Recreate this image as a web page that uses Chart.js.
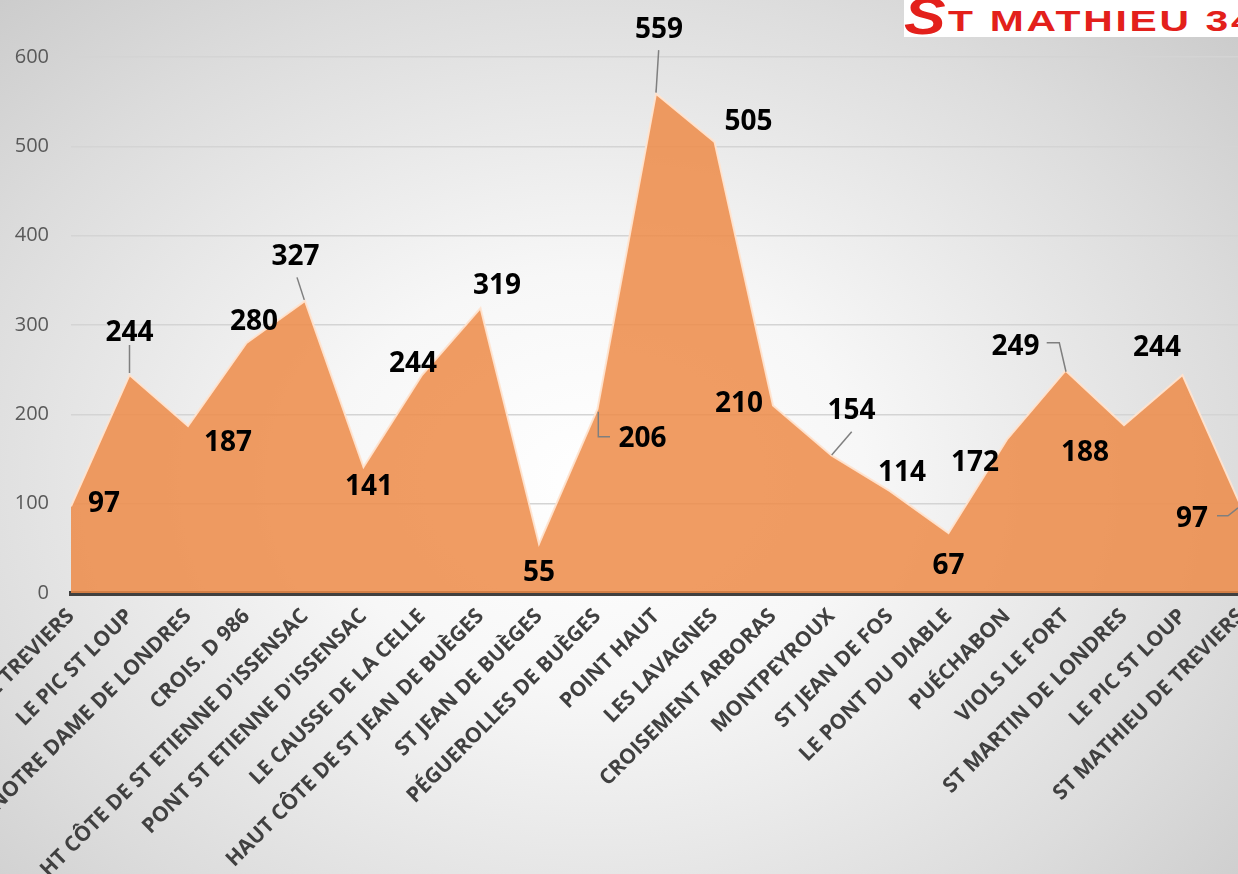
<!DOCTYPE html>
<html>
<head>
<meta charset="utf-8">
<script src="https://cdn.jsdelivr.net/npm/chart.js@4.4.1/dist/chart.umd.min.js"></script>
<style>
html,body{margin:0;padding:0;width:1238px;height:874px;overflow:hidden;}
body{background:radial-gradient(ellipse 78% 85% at 48% 55%, #ffffff 0%, #f7f7f7 28%, #dcdcdc 68%, #c4c4c4 100%);}
#wrap{position:absolute;left:0;top:0;width:1241px;height:874px;}
#logo{position:absolute;left:904px;top:0;width:334px;height:37px;background:#fff;overflow:hidden;white-space:nowrap;}
#logo .s{position:absolute;left:0px;top:-10px;font:italic bold 52px "Liberation Sans",Arial,sans-serif;color:#e3201b;line-height:52px;transform:scaleX(1.2);transform-origin:left top;}
#logo .t{position:absolute;left:44px;top:6px;font:bold 30px "Liberation Sans",Arial,sans-serif;color:#e3201b;letter-spacing:2px;line-height:30px;transform:scaleX(1.36);transform-origin:left top;}
</style>
</head>
<body>
<div id="wrap"><canvas id="c" width="1241" height="874"></canvas></div>
<div id="logo"><span class="s">S</span><span class="t">T MATHIEU 34</span></div>
<script>
// ---- data ----
const categories = [
  "ST MATHIEU DE TREVIERS", "LE PIC ST LOUP", "NOTRE DAME DE LONDRES", "CROIS. D 986",
  "HT CÔTE DE ST ETIENNE D'ISSENSAC", "PONT ST ETIENNE D'ISSENSAC", "LE CAUSSE DE LA CELLE",
  "HAUT CÔTE DE ST JEAN DE BUÈGES", "ST JEAN DE BUÈGES", "PÉGUEROLLES DE BUÈGES",
  "POINT HAUT", "LES LAVAGNES", "CROISEMENT ARBORAS", "MONTPEYROUX", "ST JEAN DE FOS",
  "LE PONT DU DIABLE", "PUÉCHABON", "VIOLS LE FORT", "ST MARTIN DE LONDRES",
  "LE PIC ST LOUP", "ST MATHIEU DE TREVIERS"
];
const altitudes = [97, 244, 187, 280, 327, 141, 244, 319, 55, 206, 559, 505, 210, 154, 114, 67, 172, 249, 188, 244, 97];
const yTicks = [0, 100, 200, 300, 400, 500, 600];

// ---- label placement (offsets from each point, in px) ----
const labelPlacement = [
  {dx: 33, dy: -4},
  {dx: 0, dy: -44, leader: [[0, -2], [0, -30]]},
  {dx: 40, dy: 15},
  {dx: 7.5, dy: -23},
  {dx: -9.5, dy: -46, leader: [[-0.7, -1], [-8, -23.5]]},
  {dx: 5.5, dy: 18},
  {dx: -9, dy: -13},
  {dx: 16.5, dy: -24},
  {dx: 0, dy: 27},
  {dx: 45, dy: 28, leader: [[0.8, 2.7], [0.8, 27.7], [12.5, 27.7]]},
  {dx: 3, dy: -65.5, leader: [[0, -1], [2.7, -43.5]]},
  {dx: 34, dy: -22},
  {dx: -34, dy: -3.4},
  {dx: 20, dy: -46.4, leader: [[0.2, -0.5], [20.2, -23.7]]},
  {dx: 12, dy: -20},
  {dx: 0, dy: 31},
  {dx: -32, dy: 22},
  {dx: -50, dy: -25.5, leader: [[0.5, 1.2], [-6.2, -27.8], [-18.8, -27.8]]},
  {dx: -39, dy: 26},
  {dx: -25.5, dy: -29},
  {dx: -49, dy: 10.7, leader: [[-3, 1.5], [-13, 9.5], [-24, 9.5]]}
];

const valueLabels = {
  id: 'valueLabels',
  afterDatasetsDraw(chart) {
    const ctx = chart.ctx;
    const meta = chart.getDatasetMeta(0);
    ctx.save();
    meta.data.forEach((pt, i) => {
      const p = labelPlacement[i] || {dx: 0, dy: -20};
      if (p.leader) {
        ctx.beginPath();
        p.leader.forEach(([lx, ly], k) => {
          if (k === 0) ctx.moveTo(pt.x + lx, pt.y + ly); else ctx.lineTo(pt.x + lx, pt.y + ly);
        });
        ctx.strokeStyle = '#7f7f7f';
        ctx.lineWidth = 1.5;
        ctx.stroke();
      }
      ctx.font = 'bold 28px "Open Sans"';
      ctx.fillStyle = '#000000';
      ctx.textAlign = 'center';
      ctx.textBaseline = 'alphabetic';
      ctx.fillText(String(altitudes[i]), pt.x + p.dx, pt.y + p.dy + 10);
    });
    ctx.restore();
  }
};

new Chart(document.getElementById('c'), {
  type: 'line',
  data: {
    labels: categories,
    datasets: [{
      data: altitudes,
      fill: 'origin',
      backgroundColor: 'rgba(237,139,72,0.85)',
      borderColor: 'rgba(255,228,208,0.95)',
      borderWidth: 2,
      tension: 0,
      pointRadius: 0,
      pointHoverRadius: 0
    }]
  },
  options: {
    responsive: false,
    animation: false,
    devicePixelRatio: 1,
    layout: {padding: {top: 57, left: 0, right: 0, bottom: 0}},
    plugins: {legend: {display: false}, tooltip: {enabled: false}},
    scales: {
      x: {
        offset: false,
        grid: {display: false, drawTicks: false},
        border: {display: true, color: '#404040', width: 5},
        ticks: {
          autoSkip: false, minRotation: 45, maxRotation: 45, padding: 11,
          color: '#404040',
          font: {family: '"Open Sans"', size: 21, weight: 'bold'}
        },
        afterFit(scale) { scale.height = 281; scale.paddingLeft = 0; scale.paddingRight = 0; }
      },
      y: {
        min: 0, max: 600,
        afterBuildTicks(scale) { scale.ticks = yTicks.map(v => ({value: v})); },
        grid: {color: '#d4d4d4', lineWidth: 1.5, drawTicks: false},
        border: {display: false},
        ticks: {
          padding: 22, color: '#595959',
          font: {family: '"Open Sans"', size: 20}
        },
        afterFit(scale) { scale.width = 71; }
      }
    }
  },
  plugins: [valueLabels]
});
</script>
</body>
</html>
